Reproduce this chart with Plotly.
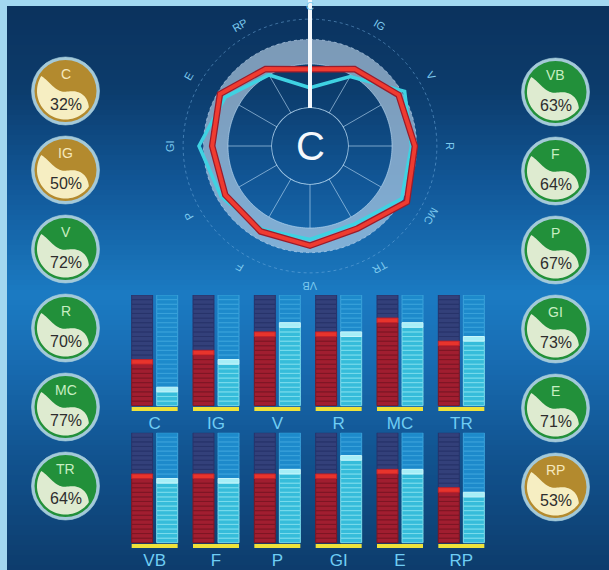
import numpy as np
import plotly.graph_objects as go

W, H = 609, 570
FONT = "Liberation Sans, Arial, sans-serif"

# ---------------- data ----------------
categories = ["C", "IG", "V", "R", "MC", "TR", "VB", "F", "P", "GI", "E", "RP"]
badge_pct = [32, 50, 72, 70, 77, 64, 63, 64, 67, 73, 71, 53]
red_level = [40, 52, 68, 68, 79, 57, 63, 63, 63, 63, 68, 52]
cyan_level = [15, 41, 73, 68, 73, 62, 57, 57, 68, 79, 68, 47]
radar_red = [44, 58, 73, 76, 84, 65, 70, 69, 68, 68, 75, 58]
radar_cyan = [23, 48, 81, 72, 77, 59, 63, 66, 73, 83, 68, 50]
normal_low, normal_high = 50, 78
selected = "C"
top_row = categories[:6]
bottom_row = categories[6:]


def fx(x):
    return x / W


def fy(y):
    return 1 - y / H


fig = go.Figure()
shapes = []
annotations = []


def note(x, y, text, size, color, angle=0):
    annotations.append(dict(x=fx(x), y=fy(y), xref="paper", yref="paper", text=text,
                            showarrow=False, xanchor="center", yanchor="middle",
                            textangle=angle, font=dict(family=FONT, size=size, color=color)))


# ---------------- background gradient ----------------
stops = [(0, (11, 49, 92)), (90, (12, 60, 108)), (180, (17, 86, 150)),
         (295, (27, 123, 195)), (360, (24, 108, 178)), (460, (17, 82, 142)),
         (570, (13, 60, 108))]


def grad(y):
    for (y0, c0), (y1, c1) in zip(stops[:-1], stops[1:]):
        if y0 <= y <= y1:
            t = (y - y0) / (y1 - y0)
            return tuple(int(round(a + (b - a) * t)) for a, b in zip(c0, c1))
    return stops[-1][1]


step = 5
for y in range(0, H, step):
    c = grad(y + step / 2)
    shapes.append(dict(type="rect", xref="paper", yref="paper", x0=0, x1=1,
                       y0=max(0, fy(y + step + 1)), y1=fy(y),
                       fillcolor="rgb(%d,%d,%d)" % c, line=dict(width=0), layer="below"))
# light frame on top and left
shapes.append(dict(type="rect", xref="paper", yref="paper", x0=0, x1=1, y0=fy(6), y1=1,
                   fillcolor="#a2d7f0", line=dict(width=0), layer="below"))
shapes.append(dict(type="rect", xref="paper", yref="paper", x0=0, x1=fx(7), y0=0, y1=1,
                   fillcolor="#a2d7f0", line=dict(width=0), layer="below"))

# ---------------- radar ----------------
CX, CY, ROUT, RHOLE = 310, 146, 146, 38
PXU = 0.88
RMAX = (ROUT - RHOLE) / PXU
theta_cat = [i * 30 for i in range(len(categories))]

th = np.linspace(0, 360, 241)
fig.add_trace(go.Scatterpolar(
    r=np.concatenate([np.full(th.size, normal_high), np.full(th.size, normal_low)]),
    theta=np.concatenate([th, th[::-1]]), mode="lines", fill="toself",
    fillcolor="rgba(200,222,240,0.6)", line=dict(color="rgba(0,0,0,0)", width=0),
    hoverinfo="skip"))

rings = [(0, "rgba(190,222,246,0.8)", 1.5, "solid"),
         (50, "rgba(190,222,246,0.6)", 1, "solid"),
         (78, "rgba(205,228,250,0.55)", 1, "dot"),
         (101, "rgba(120,180,230,0.5)", 1, "dot")]
for rv, col, w, dash in rings:
    fig.add_trace(go.Scatterpolar(r=np.full(th.size, rv), theta=th, mode="lines",
                                  line=dict(color=col, width=w, dash=dash), hoverinfo="skip"))

sp_r, sp_t = [], []
for t in theta_cat:
    sp_r += [0, 50, None]
    sp_t += [t, t, None]
fig.add_trace(go.Scatterpolar(r=sp_r, theta=sp_t, mode="lines",
                              line=dict(color="rgba(190,222,246,0.6)", width=1), hoverinfo="skip"))

closed_t = theta_cat + [theta_cat[0]]
fig.add_trace(go.Scatterpolar(r=radar_cyan + [radar_cyan[0]], theta=closed_t, mode="lines",
                              line=dict(color="#3fd2e2", width=3.5), hoverinfo="skip"))
fig.add_trace(go.Scatterpolar(r=radar_red + [radar_red[0]], theta=closed_t, mode="lines",
                              line=dict(color="#9a1c2c", width=6.5), hoverinfo="skip"))
fig.add_trace(go.Scatterpolar(r=radar_red + [radar_red[0]], theta=closed_t, mode="lines",
                              line=dict(color="#ef3b30", width=4), hoverinfo="skip"))

sel_t = theta_cat[categories.index(selected)]
fig.add_trace(go.Scatterpolar(r=[0, RMAX], theta=[sel_t, sel_t], mode="lines",
                              line=dict(color="#f4f8fc", width=4), hoverinfo="skip"))

for t, c in zip(theta_cat, categories):
    a = np.radians(t)
    rl = 140
    ang = t if t <= 180 else t - 360
    note(CX + rl * np.sin(a), CY - rl * np.cos(a), c, 11, "#7cc9ee", ang)
note(CX, CY, selected, 40, "#f4f8fc")

# ---------------- segmented bars ----------------
NSEG = 24
SEG = 100 / NSEG
BW = 0.342
OFF = 0.204


def seg_traces(levels, offset, colors, xa, ya):
    xs = {"e": [], "f": [], "t": []}
    bs = {"e": [], "f": [], "t": []}
    for i, L in enumerate(levels):
        n = int(round(L / SEG))
        for k in range(NSEG):
            kind = "f" if k < n - 1 else ("t" if k == n - 1 else "e")
            xs[kind].append(i + offset)
            bs[kind].append(k * SEG)
    for kind in ["e", "f", "t"]:
        fc, lc = colors[kind]
        fig.add_trace(go.Bar(x=xs[kind], y=[SEG] * len(xs[kind]), base=bs[kind], width=BW,
                             marker=dict(color=fc, line=dict(color=lc, width=1)),
                             xaxis=xa, yaxis=ya, hoverinfo="skip"))


red_cols = {"e": ("#33407a", "#28336a"), "f": ("#a11e30", "#7e1624"), "t": ("#e8342c", "#c0222a")}
cyan_cols = {"e": ("#1d8acb", "#3aa2da"), "f": ("#36bcda", "#7adcec"), "t": ("#a6eef7", "#c8f6fb")}

rows = [(top_row, red_level[:6], cyan_level[:6], "x", "y"),
        (bottom_row, red_level[6:], cyan_level[6:], "x2", "y2")]
for cats, rl_, cl_, xa, ya in rows:
    seg_traces(rl_, -OFF, red_cols, xa, ya)
    seg_traces(cl_, OFF, cyan_cols, xa, ya)
    fig.add_trace(go.Bar(x=list(range(len(cats))), y=[3.6] * len(cats), base=[-4.8] * len(cats),
                         width=0.75, marker=dict(color="#efe23a", line=dict(width=0)),
                         xaxis=xa, yaxis=ya, hoverinfo="skip"))

xdom = [fx(124), fx(492)]
axis_x = dict(domain=xdom, range=[-0.5, 5.5], showgrid=False, zeroline=False, showline=False,
              ticks="", tickvals=list(range(6)),
              tickfont=dict(family=FONT, size=17, color="#6fcdf4"))
axis_y = dict(range=[-5, 100], visible=False, showgrid=False, zeroline=False)

# ---------------- badges ----------------
def bez(p0, p1, p2, p3, n=24):
    t = np.linspace(0, 1, n)
    pts = []
    for tt in t:
        a, b, c, d = (1 - tt) ** 3, 3 * (1 - tt) ** 2 * tt, 3 * (1 - tt) * tt ** 2, tt ** 3
        pts.append((a * p0[0] + b * p1[0] + c * p2[0] + d * p3[0],
                    a * p0[1] + b * p1[1] + c * p2[1] + d * p3[1]))
    return pts


ri = 0.92
Pa = (ri * np.cos(np.radians(35)), ri * np.sin(np.radians(35)))
Pb = (ri * np.cos(np.radians(212)), ri * np.sin(np.radians(212)))
Mid = (0.05, 0.02)
s_curve = bez(Pa, (0.72, 0.15), (0.45, -0.05), Mid) + bez(Mid, (-0.30, 0.08), (-0.50, -0.30), Pb)[1:]
rim = [(ri * np.cos(np.radians(a)), ri * np.sin(np.radians(a))) for a in np.linspace(212, 35, 40)]
light_unit = s_curve + rim[1:]

left_y = [91, 170, 249, 328, 407, 486]
right_y = [92, 171, 250, 329, 408, 487]
badge_pos = [(65.5, y) for y in left_y] + [(555.5, y) for y in right_y]

for (cx, cy), cat, pct in zip(badge_pos, categories, badge_pct):
    gold = pct < 60
    dark = "#b38a2e" if gold else "#22903a"
    light = "#f6eec2" if gold else "#deebd0"
    lab_col = "#f5e8bd" if gold else "#c8eec2"
    R0, R1 = 34, 31
    shapes.append(dict(type="circle", xref="paper", yref="paper", x0=fx(cx - R0), x1=fx(cx + R0),
                       y0=fy(cy + R0), y1=fy(cy - R0), fillcolor="#a4c9d8",
                       line=dict(color="rgba(170,210,225,0.6)", width=1), layer="above"))
    shapes.append(dict(type="circle", xref="paper", yref="paper", x0=fx(cx - R1), x1=fx(cx + R1),
                       y0=fy(cy + R1), y1=fy(cy - R1), fillcolor=dark, line=dict(width=0), layer="above"))
    path = "M " + " L ".join("%.5f,%.5f" % (fx(cx + R1 * u), fy(cy + R1 * v)) for u, v in light_unit) + " Z"
    shapes.append(dict(type="path", xref="paper", yref="paper", path=path, fillcolor=light,
                       line=dict(width=0), layer="above"))
    note(cx, cy - 17, cat, 14, lab_col)
    note(cx, cy + 13, "%d%%" % pct, 16, "#2d2d2d")

fig.update_layout(
    width=W, height=H, margin=dict(l=0, r=0, t=0, b=0),
    paper_bgcolor="#0d3f72", plot_bgcolor="rgba(0,0,0,0)",
    showlegend=False, barmode="overlay",
    polar=dict(domain=dict(x=[fx(CX - ROUT), fx(CX + ROUT)], y=[fy(CY + ROUT), min(1, fy(CY - ROUT))]),
               hole=RHOLE / ROUT, bgcolor="rgba(0,0,0,0)",
               radialaxis=dict(range=[0, RMAX], visible=False, showgrid=False),
               angularaxis=dict(rotation=90, direction="clockwise", visible=False, showgrid=False,
                                thetaunit="degrees")),
    xaxis=dict(axis_x, anchor="y", ticktext=top_row),
    yaxis=dict(axis_y, anchor="x", domain=[fy(411.2), fy(295)]),
    xaxis2=dict(axis_x, anchor="y2", ticktext=bottom_row),
    yaxis2=dict(axis_y, anchor="x2", domain=[fy(548.2), fy(432.7)]),
    shapes=shapes, annotations=annotations,
)

fig.write_html("out.html", config={"displayModeBar": False},
               post_script="document.body.style.margin='0px';"
                           "document.body.style.background='#a2d7f0';")
